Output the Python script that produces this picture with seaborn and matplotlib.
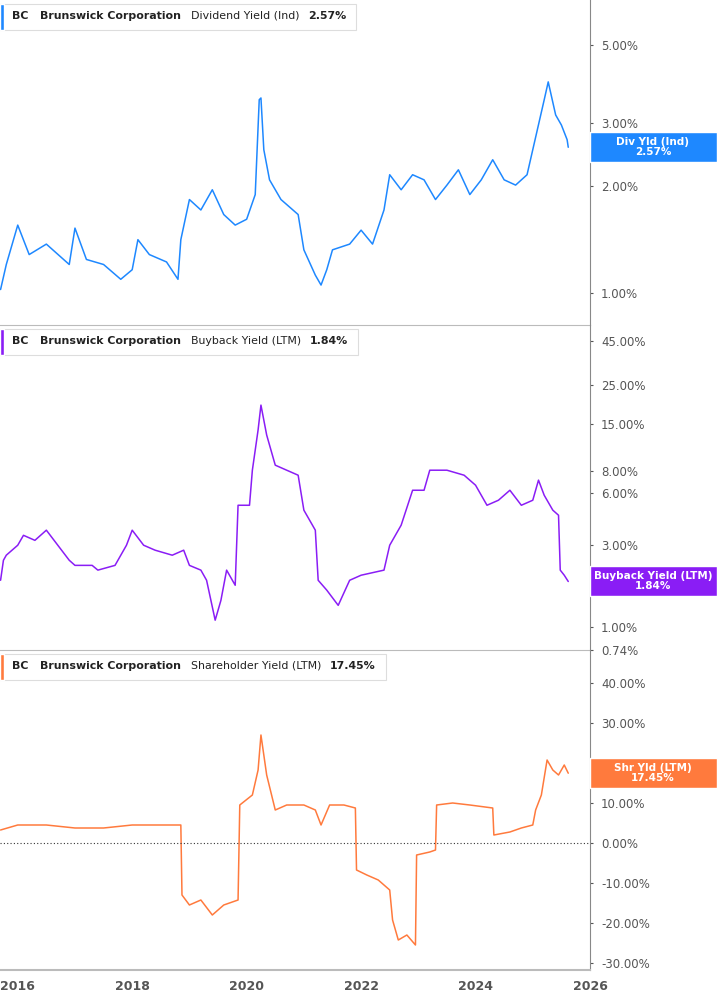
import matplotlib
matplotlib.use("Agg")
import matplotlib.pyplot as plt
import seaborn as sns
import pandas as pd
from matplotlib.patches import Rectangle

div_t = [2015.7,2015.8,2016.0,2016.2,2016.5,2016.9,2017.0,2017.2,2017.5,2017.8,2018.0,2018.1,2018.3,2018.6,2018.8,2018.85,2019.0,2019.2,2019.4,2019.6,2019.8,2020.0,2020.15,2020.22,2020.25,2020.3,2020.4,2020.6,2020.9,2021.0,2021.2,2021.3,2021.4,2021.5,2021.8,2022.0,2022.2,2022.4,2022.5,2022.7,2022.9,2023.1,2023.3,2023.5,2023.7,2023.9,2024.1,2024.3,2024.5,2024.7,2024.9,2025.0,2025.2,2025.27,2025.4,2025.5,2025.6,2025.62]
div_v = [1.02,1.20,1.55,1.28,1.37,1.20,1.52,1.24,1.20,1.09,1.16,1.41,1.28,1.22,1.09,1.41,1.83,1.71,1.95,1.66,1.55,1.61,1.89,3.50,3.54,2.53,2.08,1.83,1.66,1.32,1.12,1.05,1.16,1.32,1.37,1.50,1.37,1.71,2.15,1.95,2.15,2.08,1.83,2.01,2.22,1.89,2.08,2.37,2.08,2.01,2.15,2.53,3.50,3.93,3.17,2.97,2.70,2.57]

bb_t = [2015.7,2015.75,2015.8,2016.0,2016.1,2016.3,2016.5,2016.7,2016.9,2017.0,2017.3,2017.4,2017.7,2017.9,2018.0,2018.2,2018.4,2018.7,2018.9,2019.0,2019.2,2019.3,2019.45,2019.55,2019.65,2019.8,2019.85,2020.05,2020.1,2020.2,2020.25,2020.35,2020.5,2020.7,2020.9,2021.0,2021.2,2021.25,2021.4,2021.6,2021.8,2022.0,2022.4,2022.5,2022.7,2022.9,2023.1,2023.2,2023.5,2023.8,2024.0,2024.2,2024.4,2024.6,2024.8,2025.0,2025.1,2025.2,2025.35,2025.45,2025.48,2025.55,2025.62]
bb_v = [1.87,2.44,2.61,2.98,3.40,3.18,3.64,2.98,2.44,2.28,2.28,2.14,2.28,2.98,3.64,2.98,2.79,2.61,2.79,2.28,2.14,1.87,1.10,1.43,2.14,1.75,5.07,5.07,8.08,13.8,19.2,12.9,8.64,8.08,7.56,4.75,3.64,1.87,1.64,1.34,1.87,2.00,2.14,2.98,3.89,6.19,6.19,8.08,8.08,7.56,6.62,5.07,5.42,6.19,5.07,5.42,7.08,5.79,4.75,4.44,2.14,2.00,1.84]

sh_t = [2015.7,2016.0,2016.5,2017.0,2017.5,2018.0,2018.85,2018.87,2019.0,2019.2,2019.4,2019.6,2019.85,2019.88,2020.1,2020.2,2020.25,2020.35,2020.5,2020.7,2021.0,2021.2,2021.3,2021.45,2021.7,2021.9,2021.92,2022.1,2022.3,2022.5,2022.55,2022.65,2022.8,2022.95,2022.97,2023.2,2023.3,2023.32,2023.6,2023.9,2024.3,2024.32,2024.6,2024.8,2025.0,2025.05,2025.15,2025.25,2025.35,2025.45,2025.55,2025.62]
sh_v = [3.25,4.5,4.5,3.75,3.75,4.5,4.5,-13,-15.5,-14.25,-18,-15.5,-14.25,9.5,12,18.25,27,17,8.25,9.5,9.5,8.25,4.5,9.5,9.5,8.75,-6.75,-8,-9.25,-11.75,-19.25,-24.25,-23,-25.5,-3,-2.25,-1.75,9.5,10,9.5,8.75,2,2.75,3.75,4.5,8.25,12,20.75,18.25,17,19.5,17.45]

years = [2016, 2018, 2020, 2022, 2024, 2026]
div_ticks = [1, 2, 3, 5]
bb_ticks = [0.74, 1, 3, 6, 8, 15, 25, 45]
sh_ticks = [-30, -20, -10, 0, 10, 30, 40]

W, H = 717, 1005
sns.set_style("white")
fig = plt.figure(figsize=(W/100, H/100), dpi=100)
gray = "#555555"
xl = (2015.69, 2025.97)
aw = 590 / W

panels = [
    (0, 325, div_t, div_v, "#1E88FF", "log", (0.81, 6.69), div_ticks,
     "Dividend Yield (Ind)", "2.57%", "Div Yld (Ind)"),
    (325, 650, bb_t, bb_v, "#8A1DF5", "log", (0.74, 55.7), bb_ticks,
     "Buyback Yield (LTM)", "1.84%", "Buyback Yield (LTM)"),
    (650, 970, sh_t, sh_v, "#FF7A3D", "linear", (-31.75, 48.25), sh_ticks,
     "Shareholder Yield (LTM)", "17.45%", "Shr Yld (LTM)"),
]
fig.canvas.draw()
rend = fig.canvas.get_renderer()
for top, bot, t, v, col, scale, ylim, ticks, name, last, short in panels:
    ax = fig.add_axes([0, 1 - bot / H, aw, (bot - top) / H])
    ax.patch.set_alpha(0)
    df = pd.DataFrame({"t": t, "v": v})
    sns.lineplot(data=df, x="t", y="v", ax=ax, color=col, lw=1.1, sort=False)
    ax.set_yscale(scale)
    ax.set_ylim(*ylim)
    ax.set_xlim(*xl)
    ax.yaxis.tick_right()
    ax.set_yticks(ticks)
    ax.set_yticklabels([f"{x:.2f}%" for x in ticks], color=gray, fontsize=8.5)
    ax.minorticks_off()
    ax.tick_params(axis="y", length=2, color=gray, pad=6)
    ax.set_xlabel(""); ax.set_ylabel("")
    for s in ["left", "top"]:
        ax.spines[s].set_visible(False)
    ax.spines["right"].set_color("#888888")
    ax.spines["bottom"].set_color("#bbbbbb")
    ax.set_xticks(years)
    if bot != 970:
        ax.tick_params(axis="x", bottom=False, labelbottom=False)
    else:
        ax.set_xticklabels([str(y) for y in years], color=gray, fontsize=9, fontweight="bold")
        ax.tick_params(axis="x", length=4, color="#999999")
        ax.spines["bottom"].set_linewidth(1.5)
        ax.axhline(0, color="#333333", lw=0.8, ls=(0, (1, 2)))
    # header
    hy = 1 - (top + 16) / H
    x = 12
    for txt, wt, gap in [("BC", "bold", 12), ("Brunswick Corporation", "bold", 10),
                         (name, "normal", 8), (last, "bold", 10)]:
        tt = fig.text(x / W, hy, txt, fontsize=7.9, fontweight=wt, color="#222", va="center", zorder=12)
        w = tt.get_window_extent(renderer=rend).width
        x += w + gap
    fig.patches.append(Rectangle((0, 1 - (top + 30) / H), x / W, 26 / H, transform=fig.transFigure,
                                 facecolor="white", edgecolor="#dddddd", lw=0.8, zorder=10))
    fig.patches.append(Rectangle((0, 1 - (top + 30) / H), 4 / W, 26 / H, transform=fig.transFigure,
                                 facecolor=col, zorder=11))
    # right label
    lv = v[-1]
    ly = ax.transData.transform((xl[1], lv))[1] / fig.dpi / (H / 100)
    fig.patches.append(Rectangle((590 / W, ly - 15 / H), 127 / W, 30 / H, transform=fig.transFigure,
                                 facecolor=col, zorder=5))
    fig.text(653 / W, ly, f"{short}\n{last}", ha="center", va="center", color="white",
             fontsize=7.5, fontweight="bold", zorder=6, linespacing=1.0)

fig.savefig("out.png", dpi=100)
